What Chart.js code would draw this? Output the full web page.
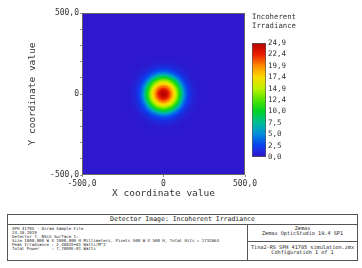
<!DOCTYPE html>
<html>
<head>
<meta charset="utf-8">
<script src="https://cdn.jsdelivr.net/npm/chart.js@4.4.0/dist/chart.umd.min.js"></script>
<style>
    body { margin: 0; width: 362px; height: 268px; background: #fff; overflow: hidden; font-family: 'DejaVu Sans Mono', monospace; color: #222; }
    #plot { position: absolute; left: 0; top: 0; }
    #bar { position: absolute; left: 240px; top: 0; }
    .info { position: absolute; left: 7px; top: 214px; width: 351px; height: 47px; border: 1px solid #555; box-sizing: border-box; color: #222; }
    .info div { position: absolute; white-space: pre; color: #222; }
    .info .head { left: 0; top: 0; width: 349px; height: 9px; border-bottom: 1px solid #555; font-size: 6.5px; line-height: 9px; text-align: center; }
    .info .left { left: 4px; top: 12px; font-size: 4.1px; line-height: 4px; }
    .info .vline { left: 239px; top: 10px; width: 0; height: 35px; border-left: 1px solid #555; }
    .info .hline { left: 240px; top: 26px; width: 109px; height: 0; border-top: 1px solid #555; }
    .info .rtop { left: 240px; top: 11px; width: 109px; font-size: 5.2px; line-height: 5px; text-align: center; }
    .info .rbot { left: 240px; top: 30px; width: 109px; font-size: 5.2px; line-height: 5px; text-align: center; }
</style>
</head>
<body>
<canvas id="plot" width="362" height="200"></canvas>
<canvas id="bar" width="122" height="200"></canvas>
<div class="info">
    <div class="head">Detector Image: Incoherent Irradiance</div>
    <div class="left">SPH 41705 - Osram Sample File
24.10.2019
Detector 7, NSCG Surface 1:
Size 1000,000 W X 1000,000 H Millimeters, Pixels 500 W X 500 H, Total Hits = 1732663
Peak Irradiance : 2,4882E+01 Watts/M^2
Total Power     : 7,7089E-01 Watts</div>
    <div class="vline"></div>
    <div class="hline"></div>
    <div class="rtop">Zemax
Zemax OpticStudio 19.4 SP1</div>
    <div class="rbot">Tina2-RS_SPH_41705_simulation.zmx
Configuration 1 of 1</div>
</div>
<script>
// spot profile: irradiance read at distance from the centre (mm), outer ring first
const spotCenter = [0, 0];
const ringRadii = [720, 250, 220, 200, 190, 180, 170, 160, 150, 140, 130, 120, 110, 100, 90, 80, 70, 60, 50, 40, 30, 20, 10, 3];
const ringValues = [0.3, 0.4, 0.5, 0.7, 0.9, 1.2, 1.6, 2.1, 2.9, 4.0, 5.5, 7.4, 9.4, 11.5, 13.6, 15.6, 17.4, 19.0, 20.6, 22.0, 23.3, 24.2, 24.7, 24.9];

// axes
const axisTicks = [-500, -400, -300, -200, -100, 0, 100, 200, 300, 400, 500];
const axisLabelValues = [-500, 0, 500];
const axisLabels = ['-500,0', '0', '500,0'];

// colour bar
const colorbarMax = 24.9;
const colorbarTicks = [0, 2.49, 4.98, 7.47, 9.96, 12.45, 14.94, 17.43, 19.92, 22.41, 24.9];
const colorbarLabels = ['0,0', '2,5', '5,0', '7,5', '10,0', '12,4', '14,9', '17,4', '19,9', '22,4', '24,9'];

const colormap = [
    [0.00, [50, 18, 200]],
    [0.10, [10, 64, 240]],
    [0.20, [0, 140, 222]],
    [0.30, [0, 190, 150]],
    [0.40, [0, 210, 40]],
    [0.50, [80, 228, 0]],
    [0.60, [190, 240, 0]],
    [0.70, [250, 220, 0]],
    [0.80, [255, 140, 0]],
    [0.90, [235, 30, 0]],
    [1.00, [180, 0, 0]]
];

const monoFont = "'DejaVu Sans Mono', monospace";
const textColor = '#333';

function rgb(c) {
    return 'rgb(' + c.map(Math.round).join(',') + ')';
}

// map an irradiance value onto the colour bar
function colorFor(value) {
    const f = Math.min(1, Math.max(0, value / colorbarMax));
    for (let i = 1; i < colormap.length; i++) {
        if (f <= colormap[i][0]) {
            const [f0, c0] = colormap[i - 1];
            const [f1, c1] = colormap[i];
            const t = (f - f0) / (f1 - f0);
            return rgb(c0.map((v, k) => v + (c1[k] - v) * t));
        }
    }
    return rgb(colormap[colormap.length - 1][1]);
}

function labelFor(v) {
    const i = axisLabelValues.indexOf(v);
    return i >= 0 ? axisLabels[i] : '';
}

// radius of a ring in pixels, taken from the x scale
function ringPixels(ctx) {
    const xs = ctx.chart.scales.x;
    if (!xs) return 0;
    return Math.abs(xs.getPixelForValue(ringRadii[ctx.dataIndex]) - xs.getPixelForValue(spotCenter[0]));
}

// thin frame round the plot area
const frame = {
    id: 'frame',
    afterDatasetsDraw(chart) {
        const a = chart.chartArea;
        const c = chart.ctx;
        c.save();
        c.strokeStyle = '#666';
        c.lineWidth = 1;
        c.strokeRect(a.left + 0.5, a.top + 0.5, a.right - a.left - 1, a.bottom - a.top - 1);
        c.restore();
    }
};

new Chart(document.getElementById('plot'), {
    type: 'scatter',
    data: {
        datasets: [{
            data: ringRadii.map(() => ({ x: spotCenter[0], y: spotCenter[1] })),
            pointRadius: ringPixels,
            pointHoverRadius: ringPixels,
            pointBackgroundColor: ctx => colorFor(ringValues[ctx.dataIndex]),
            pointBorderWidth: 0,
            clip: 0
        }]
    },
    options: {
        responsive: false,
        animation: false,
        events: [],
        layout: { padding: { left: 0, top: 13, right: 117, bottom: 0 } },
        plugins: {
            legend: { display: false },
            tooltip: { enabled: false }
        },
        scales: {
            x: {
                type: 'linear',
                min: -500,
                max: 500,
                afterBuildTicks: s => { s.ticks = axisLabelValues.map(v => ({ value: v })); },
                afterFit: s => { s.height = 25; },
                ticks: { callback: v => labelFor(v), autoSkip: false, maxRotation: 0, padding: 2, color: textColor, font: { family: monoFont, size: 8 } },
                grid: { drawOnChartArea: false, tickLength: 2, color: '#888' },
                border: { display: false },
                title: { display: true, text: 'X coordinate value', color: textColor, font: { family: monoFont, size: 9.5 }, padding: { top: 0, bottom: 1 } }
            },
            y: {
                type: 'linear',
                min: -500,
                max: 500,
                afterBuildTicks: s => { s.ticks = axisTicks.map(v => ({ value: v })); },
                afterFit: s => { s.width = 82; },
                ticks: { callback: v => labelFor(v), autoSkip: false, padding: 1, color: textColor, font: { family: monoFont, size: 8 } },
                grid: { drawOnChartArea: false, tickLength: 2, color: '#999' },
                border: { display: false },
                title: { display: true, text: 'Y coordinate value', color: textColor, font: { family: monoFont, size: 9.5 }, padding: { top: 27, bottom: 0 } }
            }
        }
    },
    plugins: [frame]
});

new Chart(document.getElementById('bar'), {
    type: 'bar',
    data: {
        labels: [''],
        datasets: [{
            data: [colorbarMax],
            backgroundColor: ctx => {
                const area = ctx.chart.chartArea;
                if (!area) return colorFor(colorbarMax / 2);
                const g = ctx.chart.ctx.createLinearGradient(0, area.bottom, 0, area.top);
                colormap.forEach(s => g.addColorStop(s[0], rgb(s[1])));
                return g;
            },
            borderColor: '#555',
            borderWidth: 1,
            borderSkipped: false,
            categoryPercentage: 1,
            barPercentage: 1
        }]
    },
    options: {
        responsive: false,
        animation: false,
        events: [],
        layout: { padding: { left: 12, right: 66, top: 0, bottom: 43 } },
        plugins: {
            legend: { display: false },
            tooltip: { enabled: false },
            title: {
                display: true,
                text: ['Incoherent', 'Irradiance'],
                align: 'start',
                color: textColor,
                font: { family: monoFont, size: 7.5, weight: 'normal', lineHeight: 1.27 },
                padding: { top: 12, bottom: 12 }
            }
        },
        scales: {
            x: { display: false },
            y: {
                position: 'right',
                min: 0,
                max: colorbarMax,
                afterBuildTicks: s => { s.ticks = colorbarTicks.map(v => ({ value: v })); },
                afterFit: s => { s.width = 30; },
                ticks: { callback: (v, i) => colorbarLabels[i], autoSkip: false, padding: 2, color: textColor, font: { family: monoFont, size: 7.5 } },
                grid: { display: false, drawTicks: false },
                border: { display: false }
            }
        }
    }
});
</script>
</body>
</html>
